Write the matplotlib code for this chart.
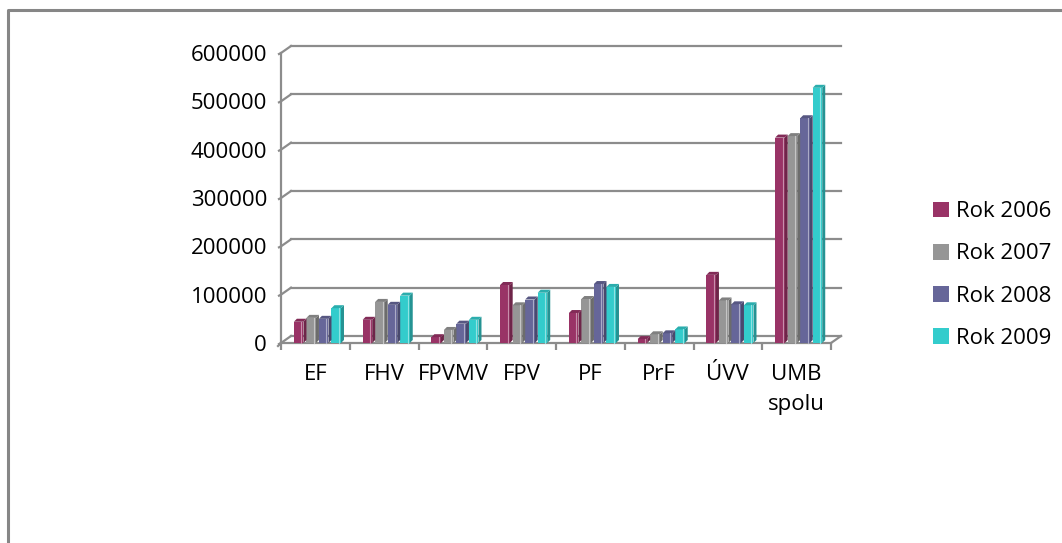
import numpy as np
import matplotlib
matplotlib.use("Agg")
import matplotlib.pyplot as plt
from matplotlib.lines import Line2D
from matplotlib.patches import Polygon, Patch
from matplotlib.transforms import IdentityTransform, offset_copy
from matplotlib.colors import to_rgb

plt.rcParams['font.family'] = ['Open Sans', 'DejaVu Sans']

categories = ["EF", "FHV", "FPVMV", "FPV", "PF", "PrF", "ÚVV", "UMB\nspolu"]
series_names = ["Rok 2006", "Rok 2007", "Rok 2008", "Rok 2009"]
rok_2006 = [44000, 48000, 12000, 120000, 62000, 8000, 141000, 425000]
rok_2007 = [52000, 85000, 27000, 78000, 91000, 18000, 88000, 428000]
rok_2008 = [50000, 79000, 40000, 90000, 122000, 20000, 80000, 465000]
rok_2009 = [72000, 98000, 48000, 104000, 116000, 28000, 78000, 528000]
series = [rok_2006, rok_2007, rok_2008, rok_2009]
yticks = [0, 100000, 200000, 300000, 400000, 500000, 600000]
colors = ["#993366", "#969696", "#666699", "#33CCCC"]

W, H = 1062, 543
fig = plt.figure(figsize=(W / 100, H / 100), dpi=100)
ax = fig.add_axes([281 / W, (H - 343) / H, 550 / W, 290 / H])
ncat = len(categories)
ax.set_xlim(0, ncat)
ax.set_ylim(yticks[0], yticks[-1])
for s in ax.spines.values():
    s.set_visible(False)

GRAY = "#8c8c8c"
DX, DY = 10, 7  # back wall offset in pixels
back = offset_copy(ax.transData, fig=fig, x=DX, y=DY, units='dots')
ident = IdentityTransform()

fig.canvas.draw()

# back wall grid lines and left wall connectors
for v in yticks:
    ax.add_line(Line2D([0, ncat], [v, v], transform=back, color=GRAY, lw=1.6, zorder=1, clip_on=False))
    p = ax.transData.transform((0, v))
    fig.add_artist(Line2D([p[0] - 2, p[0], p[0] + DX], [p[1] - 1, p[1], p[1] + DY], transform=ident,
                          color=GRAY, lw=1.6, zorder=1))
# front floor edge and axis
ax.add_line(Line2D([0, ncat], [0, 0], color=GRAY, lw=1.6, zorder=1, clip_on=False))
ax.add_line(Line2D([0, 0], [0, yticks[-1]], color=GRAY, lw=1.6, zorder=1, clip_on=False))
p = ax.transData.transform((ncat, 0))
fig.add_artist(Line2D([p[0], p[0] + DX], [p[1], p[1] + DY], transform=ident, color=GRAY, lw=1.6, zorder=1))
p0 = ax.transData.transform((0, 0))
fig.add_artist(Line2D([p0[0] - 3, p0[0]], [p0[1] - 3, p0[1]], transform=ident, color=GRAY, lw=1.6, zorder=1))

# ticks
ax.set_yticks(yticks)
ax.set_yticklabels([str(v) for v in yticks])
ax.tick_params(axis='y', length=0, pad=10, labelsize=16, labelcolor='black')
ax.set_xticks(np.arange(ncat + 1))
ax.set_xticklabels([''] * (ncat + 1))
ax.set_xticks(np.arange(ncat) + 0.5, minor=True)
ax.set_xticklabels(categories, minor=True, linespacing=1.6)
ax.tick_params(axis='x', which='major', length=5, width=1.6, color=GRAY, direction='out')
ax.tick_params(axis='x', which='minor', length=0, pad=15, labelsize=16)

# bars
slot = 0.182
fw = 0.139
d = 3
xc = np.arange(ncat) + 0.5 + 0.03
for k, (vals, c) in enumerate(zip(series, colors)):
    xs = xc + (k - 1.5) * slot
    ax.bar(xs, vals, width=fw, color=c, zorder=3, linewidth=0)
    base = np.array(to_rgb(c))
    side_c = base * 0.72
    top_c = base * 0.85
    hi_c = base + (1 - base) * 0.45
    for x, v in zip(xs, vals):
        (xl, yb) = ax.transData.transform((x - fw / 2, 0))
        (xr, yt) = ax.transData.transform((x + fw / 2, v))
        fig.add_artist(Polygon([(xr, yb), (xr + d, yb + d), (xr + d, yt + d), (xr, yt)],
                               closed=True, transform=ident, facecolor=side_c, edgecolor='none', zorder=3))
        fig.add_artist(Polygon([(xl, yt), (xl + d, yt + d), (xr + d, yt + d), (xr, yt)],
                               closed=True, transform=ident, facecolor=top_c, edgecolor='none', zorder=3))
        fig.add_artist(Line2D([xr - 2, xr - 2], [yb, yt], transform=ident, color=hi_c, lw=0.8, zorder=4))

# legend
handles = [Patch(facecolor=c, edgecolor='none') for c in colors]
fig.legend(handles, series_names, loc='center left', bbox_to_anchor=(933 / W, (H - 275) / H),
           frameon=False, fontsize=16, handlelength=0.72, handleheight=0.72, handletextpad=0.3,
           labelspacing=0.95, borderpad=0, borderaxespad=0)

# outer border
fig.add_artist(Line2D([7.5 / W, 7.5 / W, 1.0], [0.0, (H - 9.5) / H, (H - 9.5) / H],
                      transform=fig.transFigure, color="#868686", lw=2.2, zorder=0))

fig.savefig("out.png", dpi=100)
